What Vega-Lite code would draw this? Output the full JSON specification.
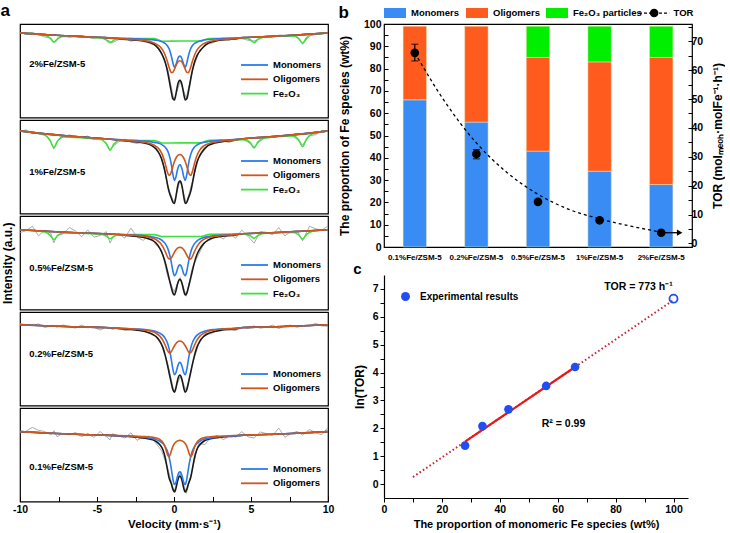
{
"$schema":"https://vega.github.io/schema/vega-lite/v6.json",
"padding":{"left":0,"top":2,"right":0,"bottom":0},
"background":"white",
"config":{
 "font":"Liberation Sans",
 "view":{"stroke":"black","strokeWidth":1.2},
 "axis":{"labelFont":"Liberation Sans","labelFontWeight":"bold","labelFontSize":10.5,"labelColor":"black","titleFont":"Liberation Sans","titleFontWeight":"bold","titleFontSize":11.5,"titleColor":"black","domainColor":"black","tickColor":"black","grid":false,"domainWidth":1.2,"tickWidth":1,"labelOverlap":false},
 "legend":{"labelFont":"Liberation Sans","labelFontWeight":"bold","labelFontSize":9.5,"labelColor":"black"},
 "title":{"font":"Liberation Sans","fontWeight":"bold","fontSize":17,"color":"black"}
},
"datasets":{
"c1":[
{"v":-10,"fit":466,"Monomers":466,"Oligomers":466},{"v":-8,"fit":463.8,"Monomers":463.8,"Oligomers":463.8},{"v":-6,"fit":462.2,"Monomers":462.2,"Oligomers":462.2},{"v":-4.5,"fit":461.2,"Monomers":461.2,"Oligomers":461.2},
{"v":-3.12,"fit":459.4,"Monomers":460.3,"Oligomers":459.7},{"v":-2.37,"fit":458.5,"Monomers":459.9,"Oligomers":458.9},{"v":-1.87,"fit":457.3,"Monomers":459.5,"Oligomers":458.0},{"v":-1.47,"fit":455.7,"Monomers":459.1,"Oligomers":456.7},{"v":-1.17,"fit":452.8,"Monomers":458.5,"Oligomers":454.8},{"v":-0.92,"fit":448.1,"Monomers":457.7,"Oligomers":452.1},{"v":-0.72,"fit":442.2,"Monomers":456.6,"Oligomers":448.1},{"v":-0.57,"fit":436.1,"Monomers":455.2,"Oligomers":443.2},{"v":-0.42,"fit":426.7,"Monomers":452.7,"Oligomers":436.3},{"v":-0.32,"fit":418.5,"Monomers":449.8,"Oligomers":431.0},{"v":-0.24,"fit":411.5,"Monomers":446.4,"Oligomers":427.4},{"v":-0.17,"fit":405.6,"Monomers":442.3,"Oligomers":425.6},{"v":-0.07,"fit":399.0,"Monomers":435.3,"Oligomers":426.0},{"v":0.03,"fit":397.9,"Monomers":431.1,"Oligomers":429.1},{"v":0.13,"fit":404.3,"Monomers":433.7,"Oligomers":432.9},{"v":0.23,"fit":412.5,"Monomers":438.9,"Oligomers":435.9},{"v":0.31,"fit":416.7,"Monomers":441.7,"Oligomers":437.3},{"v":0.38,"fit":417.7,"Monomers":442.4,"Oligomers":437.6},{"v":0.45,"fit":416.7,"Monomers":441.7,"Oligomers":437.3},{"v":0.53,"fit":412.5,"Monomers":438.9,"Oligomers":435.9},{"v":0.63,"fit":404.3,"Monomers":433.7,"Oligomers":432.9},{"v":0.73,"fit":397.9,"Monomers":431.1,"Oligomers":429.1},{"v":0.83,"fit":399.0,"Monomers":435.3,"Oligomers":426.0},{"v":0.93,"fit":405.6,"Monomers":442.3,"Oligomers":425.6},{"v":1.0,"fit":411.5,"Monomers":446.4,"Oligomers":427.4},{"v":1.08,"fit":418.5,"Monomers":449.8,"Oligomers":431.0},{"v":1.18,"fit":426.7,"Monomers":452.7,"Oligomers":436.3},{"v":1.33,"fit":436.1,"Monomers":455.2,"Oligomers":443.2},{"v":1.48,"fit":442.4,"Monomers":456.6,"Oligomers":448.1},{"v":1.68,"fit":447.5,"Monomers":457.7,"Oligomers":452.1},{"v":1.93,"fit":451.9,"Monomers":458.7,"Oligomers":455.0},{"v":2.23,"fit":455.6,"Monomers":459.3,"Oligomers":456.9},{"v":2.63,"fit":457.5,"Monomers":459.7,"Oligomers":458.2},{"v":3.13,"fit":458.8,"Monomers":460.2,"Oligomers":459.2},{"v":3.88,"fit":459.7,"Monomers":460.6,"Oligomers":460.0},
{"v":4.5,"fit":461.2,"Monomers":461.2,"Oligomers":461.2},{"v":6,"fit":462.2,"Monomers":462.2,"Oligomers":462.2},{"v":8,"fit":463.8,"Monomers":463.8,"Oligomers":463.8},{"v":10,"fit":466,"Monomers":466,"Oligomers":466}],
"c2":[
{"v":-10,"fit":369,"Monomers":369,"Oligomers":369},{"v":-8,"fit":365.4,"Monomers":365.4,"Oligomers":365.4},{"v":-6,"fit":362.6,"Monomers":362.6,"Oligomers":362.6},{"v":-4.5,"fit":361.0,"Monomers":361.0,"Oligomers":361.0},
{"v":-3.12,"fit":358.8,"Monomers":359.6,"Oligomers":359.2},{"v":-2.37,"fit":357.6,"Monomers":359.0,"Oligomers":358.2},{"v":-1.87,"fit":356.3,"Monomers":358.5,"Oligomers":357.2},{"v":-1.47,"fit":354.2,"Monomers":357.8,"Oligomers":355.6},{"v":-1.17,"fit":350.7,"Monomers":357.0,"Oligomers":353.3},{"v":-0.92,"fit":344.7,"Monomers":356.0,"Oligomers":349.5},{"v":-0.72,"fit":336.1,"Monomers":354.3,"Oligomers":343.3},{"v":-0.57,"fit":326.7,"Monomers":352.3,"Oligomers":335.7},{"v":-0.42,"fit":314.3,"Monomers":348.8,"Oligomers":326.8},{"v":-0.32,"fit":307.2,"Monomers":344.8,"Oligomers":323.7},{"v":-0.24,"fit":303.4,"Monomers":340.0,"Oligomers":324.7},{"v":-0.17,"fit":300.6,"Monomers":334.3,"Oligomers":327.6},{"v":-0.07,"fit":296.3,"Monomers":324.6,"Oligomers":333.0},{"v":0.03,"fit":295.3,"Monomers":318.7,"Oligomers":337.9},{"v":0.13,"fit":302.5,"Monomers":322.4,"Oligomers":341.4},{"v":0.23,"fit":312.0,"Monomers":329.7,"Oligomers":343.6},{"v":0.31,"fit":316.8,"Monomers":333.5,"Oligomers":344.6},{"v":0.38,"fit":318.0,"Monomers":334.5,"Oligomers":344.8},{"v":0.45,"fit":316.8,"Monomers":333.5,"Oligomers":344.6},{"v":0.53,"fit":312.0,"Monomers":329.7,"Oligomers":343.6},{"v":0.63,"fit":302.5,"Monomers":322.4,"Oligomers":341.4},{"v":0.73,"fit":295.3,"Monomers":318.7,"Oligomers":337.9},{"v":0.83,"fit":296.3,"Monomers":324.6,"Oligomers":333.0},{"v":0.93,"fit":300.6,"Monomers":334.3,"Oligomers":327.6},{"v":1.0,"fit":303.4,"Monomers":340.0,"Oligomers":324.7},{"v":1.08,"fit":307.2,"Monomers":344.8,"Oligomers":323.7},{"v":1.18,"fit":314.3,"Monomers":348.8,"Oligomers":326.8},{"v":1.33,"fit":326.9,"Monomers":352.5,"Oligomers":335.9},{"v":1.48,"fit":336.5,"Monomers":354.5,"Oligomers":343.5},{"v":1.68,"fit":344.1,"Monomers":356.2,"Oligomers":349.7},{"v":1.93,"fit":349.9,"Monomers":357.3,"Oligomers":353.6},{"v":2.23,"fit":354.2,"Monomers":358.1,"Oligomers":355.9},{"v":2.63,"fit":356.6,"Monomers":358.8,"Oligomers":357.5},{"v":3.13,"fit":358.0,"Monomers":359.4,"Oligomers":358.6},{"v":3.88,"fit":359.3,"Monomers":360.1,"Oligomers":359.7},
{"v":4.5,"fit":361.0,"Monomers":361.0,"Oligomers":361.0},{"v":6,"fit":362.6,"Monomers":362.6,"Oligomers":362.6},{"v":8,"fit":365.4,"Monomers":365.4,"Oligomers":365.4},{"v":10,"fit":369,"Monomers":369,"Oligomers":369}],
"c3":[
{"v":-10,"fit":271,"Monomers":271,"Oligomers":271},{"v":-8,"fit":269.2,"Monomers":269.2,"Oligomers":269.2},{"v":-6,"fit":267.8,"Monomers":267.8,"Oligomers":267.8},{"v":-4.5,"fit":267.0,"Monomers":267.0,"Oligomers":267.0},
{"v":-3.12,"fit":265.3,"Monomers":266.0,"Oligomers":265.8},{"v":-2.37,"fit":264.2,"Monomers":265.4,"Oligomers":265.1},{"v":-1.87,"fit":262.9,"Monomers":264.9,"Oligomers":264.2},{"v":-1.47,"fit":260.8,"Monomers":264.0,"Oligomers":262.9},{"v":-1.17,"fit":257.6,"Monomers":263.0,"Oligomers":261.0},{"v":-0.92,"fit":252.2,"Monomers":261.6,"Oligomers":258.0},{"v":-0.72,"fit":245.1,"Monomers":259.5,"Oligomers":253.6},{"v":-0.57,"fit":237.9,"Monomers":256.9,"Oligomers":248.8},{"v":-0.42,"fit":228.3,"Monomers":252.6,"Oligomers":243.5},{"v":-0.32,"fit":221.6,"Monomers":248.0,"Oligomers":241.4},{"v":-0.24,"fit":216.4,"Monomers":242.9,"Oligomers":241.3},{"v":-0.17,"fit":212.1,"Monomers":237.4,"Oligomers":242.5},{"v":-0.07,"fit":206.6,"Monomers":229.1,"Oligomers":245.3},{"v":0.03,"fit":204.8,"Monomers":224.3,"Oligomers":248.3},{"v":0.13,"fit":209.2,"Monomers":226.3,"Oligomers":250.7},{"v":0.23,"fit":216.0,"Monomers":231.5,"Oligomers":252.3},{"v":0.31,"fit":219.6,"Monomers":234.5,"Oligomers":252.9},{"v":0.38,"fit":220.7,"Monomers":235.4,"Oligomers":253.1},{"v":0.45,"fit":219.6,"Monomers":234.5,"Oligomers":252.9},{"v":0.53,"fit":216.0,"Monomers":231.5,"Oligomers":252.3},{"v":0.63,"fit":209.2,"Monomers":226.3,"Oligomers":250.7},{"v":0.73,"fit":204.8,"Monomers":224.3,"Oligomers":248.3},{"v":0.83,"fit":206.6,"Monomers":229.1,"Oligomers":245.3},{"v":0.93,"fit":212.1,"Monomers":237.4,"Oligomers":242.5},{"v":1.0,"fit":216.4,"Monomers":242.9,"Oligomers":241.3},{"v":1.08,"fit":221.6,"Monomers":248.0,"Oligomers":241.4},{"v":1.18,"fit":228.3,"Monomers":252.6,"Oligomers":243.5},{"v":1.33,"fit":237.9,"Monomers":256.9,"Oligomers":248.8},{"v":1.48,"fit":245.3,"Monomers":259.5,"Oligomers":253.6},{"v":1.68,"fit":251.6,"Monomers":261.6,"Oligomers":258.0},{"v":1.93,"fit":256.9,"Monomers":263.2,"Oligomers":261.2},{"v":2.23,"fit":260.7,"Monomers":264.2,"Oligomers":263.05},{"v":2.63,"fit":263.05,"Monomers":265.05,"Oligomers":264.35},{"v":3.13,"fit":264.4,"Monomers":265.6,"Oligomers":265.3},{"v":3.88,"fit":265.55,"Monomers":266.25,"Oligomers":266.05},
{"v":4.5,"fit":267.0,"Monomers":267.0,"Oligomers":267.0},{"v":6,"fit":267.8,"Monomers":267.8,"Oligomers":267.8},{"v":8,"fit":269.2,"Monomers":269.2,"Oligomers":269.2},{"v":10,"fit":271,"Monomers":271,"Oligomers":271}],
"c4":[
{"v":-10,"fit":177,"Monomers":177,"Oligomers":177},{"v":-8,"fit":175.7,"Monomers":175.7,"Oligomers":175.7},{"v":-6,"fit":174.8,"Monomers":174.8,"Oligomers":174.8},{"v":-4.5,"fit":174.2,"Monomers":174.2,"Oligomers":174.2},
{"v":-3.12,"fit":172.5,"Monomers":173.2,"Oligomers":173.1},{"v":-2.37,"fit":171.5,"Monomers":172.7,"Oligomers":172.5},{"v":-1.87,"fit":170.1,"Monomers":172.1,"Oligomers":171.6},{"v":-1.47,"fit":168.0,"Monomers":171.2,"Oligomers":170.3},{"v":-1.17,"fit":165.1,"Monomers":170.1,"Oligomers":168.5},{"v":-0.92,"fit":160.5,"Monomers":168.5,"Oligomers":165.5},{"v":-0.72,"fit":153.8,"Monomers":166.2,"Oligomers":161.1},{"v":-0.57,"fit":145.9,"Monomers":163.2,"Oligomers":156.2},{"v":-0.42,"fit":135.7,"Monomers":158.3,"Oligomers":150.9},{"v":-0.32,"fit":128.3,"Monomers":153.1,"Oligomers":148.7},{"v":-0.24,"fit":122.5,"Monomers":147.3,"Oligomers":148.7},{"v":-0.17,"fit":117.5,"Monomers":141.1,"Oligomers":149.9},{"v":-0.07,"fit":110.9,"Monomers":131.7,"Oligomers":152.7},{"v":0.03,"fit":108.5,"Monomers":126.3,"Oligomers":155.7},{"v":0.13,"fit":113.1,"Monomers":128.5,"Oligomers":158.1},{"v":0.23,"fit":120.6,"Monomers":134.4,"Oligomers":159.7},{"v":0.31,"fit":124.7,"Monomers":137.8,"Oligomers":160.4},{"v":0.38,"fit":126.0,"Monomers":138.9,"Oligomers":160.6},{"v":0.45,"fit":124.7,"Monomers":137.8,"Oligomers":160.4},{"v":0.53,"fit":120.6,"Monomers":134.4,"Oligomers":159.7},{"v":0.63,"fit":113.1,"Monomers":128.5,"Oligomers":158.1},{"v":0.73,"fit":108.5,"Monomers":126.3,"Oligomers":155.7},{"v":0.83,"fit":110.9,"Monomers":131.7,"Oligomers":152.7},{"v":0.93,"fit":117.5,"Monomers":141.1,"Oligomers":149.9},{"v":1.0,"fit":122.5,"Monomers":147.3,"Oligomers":148.7},{"v":1.08,"fit":128.3,"Monomers":153.1,"Oligomers":148.7},{"v":1.18,"fit":135.7,"Monomers":158.3,"Oligomers":150.9},{"v":1.33,"fit":145.9,"Monomers":163.2,"Oligomers":156.2},{"v":1.48,"fit":153.8,"Monomers":166.2,"Oligomers":161.1},{"v":1.68,"fit":160.5,"Monomers":168.5,"Oligomers":165.5},{"v":1.93,"fit":165.1,"Monomers":170.1,"Oligomers":168.5},{"v":2.23,"fit":168.2,"Monomers":171.4,"Oligomers":170.5},{"v":2.63,"fit":170.25,"Monomers":172.25,"Oligomers":171.75},{"v":3.13,"fit":171.65,"Monomers":172.85,"Oligomers":172.65},{"v":3.88,"fit":172.7,"Monomers":173.4,"Oligomers":173.3},
{"v":4.5,"fit":174.2,"Monomers":174.2,"Oligomers":174.2},{"v":6,"fit":174.8,"Monomers":174.8,"Oligomers":174.8},{"v":8,"fit":175.7,"Monomers":175.7,"Oligomers":175.7},{"v":10,"fit":177,"Monomers":177,"Oligomers":177}],
"c5":[
{"v":-10,"fit":71,"Monomers":71,"Oligomers":71},{"v":-8,"fit":69.4,"Monomers":69.4,"Oligomers":69.4},{"v":-6,"fit":68.1,"Monomers":68.1,"Oligomers":68.1},{"v":-4.5,"fit":67.4,"Monomers":67.4,"Oligomers":67.4},
{"v":-3.12,"fit":66.15,"Monomers":66.35,"Oligomers":66.75},{"v":-2.37,"fit":65.25,"Monomers":65.65,"Oligomers":66.35},{"v":-1.87,"fit":64.35,"Monomers":65.05,"Oligomers":65.95},{"v":-1.47,"fit":63.1,"Monomers":64.2,"Oligomers":65.5},{"v":-1.17,"fit":61.1,"Monomers":63.0,"Oligomers":64.6},{"v":-0.92,"fit":57.7,"Monomers":61.2,"Oligomers":63.0},{"v":-0.72,"fit":52.5,"Monomers":58.9,"Oligomers":60.1},{"v":-0.57,"fit":44.5,"Monomers":55.8,"Oligomers":55.2},{"v":-0.42,"fit":31.9,"Monomers":50.7,"Oligomers":47.7},{"v":-0.32,"fit":24.2,"Monomers":45.2,"Oligomers":45.5},{"v":-0.24,"fit":20.7,"Monomers":39.2,"Oligomers":48.0},{"v":-0.17,"fit":17.7,"Monomers":32.7,"Oligomers":51.5},{"v":-0.07,"fit":12.3,"Monomers":22.8,"Oligomers":56.0},{"v":0.03,"fit":9.6,"Monomers":17.2,"Oligomers":58.9},{"v":0.13,"fit":13.6,"Monomers":19.5,"Oligomers":60.6},{"v":0.23,"fit":20.7,"Monomers":25.6,"Oligomers":61.6},{"v":0.31,"fit":24.8,"Monomers":29.3,"Oligomers":62.0},{"v":0.38,"fit":25.9,"Monomers":30.3,"Oligomers":62.1},{"v":0.45,"fit":24.8,"Monomers":29.3,"Oligomers":62.0},{"v":0.53,"fit":20.7,"Monomers":25.6,"Oligomers":61.6},{"v":0.63,"fit":13.6,"Monomers":19.5,"Oligomers":60.6},{"v":0.73,"fit":9.6,"Monomers":17.2,"Oligomers":58.9},{"v":0.83,"fit":12.3,"Monomers":22.8,"Oligomers":56.0},{"v":0.93,"fit":17.7,"Monomers":32.7,"Oligomers":51.5},{"v":1.0,"fit":20.7,"Monomers":39.2,"Oligomers":48.0},{"v":1.08,"fit":24.2,"Monomers":45.2,"Oligomers":45.5},{"v":1.18,"fit":31.9,"Monomers":50.7,"Oligomers":47.7},{"v":1.33,"fit":44.5,"Monomers":55.8,"Oligomers":55.2},{"v":1.48,"fit":52.5,"Monomers":58.9,"Oligomers":60.1},{"v":1.68,"fit":57.7,"Monomers":61.2,"Oligomers":63.0},{"v":1.93,"fit":61.25,"Monomers":63.15,"Oligomers":64.75},{"v":2.23,"fit":63.2,"Monomers":64.3,"Oligomers":65.6},{"v":2.63,"fit":64.5,"Monomers":65.2,"Oligomers":66.1},{"v":3.13,"fit":65.45,"Monomers":65.85,"Oligomers":66.55},{"v":3.88,"fit":66.4,"Monomers":66.6,"Oligomers":67.0},
{"v":4.5,"fit":67.4,"Monomers":67.4,"Oligomers":67.4},{"v":6,"fit":68.1,"Monomers":68.1,"Oligomers":68.1},{"v":8,"fit":69.4,"Monomers":69.4,"Oligomers":69.4},{"v":10,"fit":71,"Monomers":71,"Oligomers":71}],
"g1":[{"v":-10,"y":466},{"v":-8.4,"y":463.5},{"v":-8.05,"y":460.7},{"v":-7.8,"y":456.6},{"v":-7.55,"y":460.2},{"v":-7.2,"y":462.4},{"v":-4.75,"y":460.9},{"v":-4.4,"y":458.9},{"v":-4.15,"y":456.0},{"v":-3.9,"y":458.6},{"v":-3.55,"y":460.3},{"v":-1.3,"y":460.1},{"v":-0.95,"y":458.6},{"v":-0.75,"y":457.5},{"v":0.4,"y":457.8},{"v":1.75,"y":457.7},{"v":1.95,"y":458.7},{"v":2.3,"y":460.3},{"v":4.6,"y":460.8},{"v":4.95,"y":459.0},{"v":5.2,"y":456.1},{"v":5.45,"y":459.3},{"v":5.8,"y":461.5},{"v":7.75,"y":462.8},{"v":8.1,"y":460.1},{"v":8.35,"y":455.7},{"v":8.6,"y":460.6},{"v":8.95,"y":464.0},{"v":10,"y":466}],
"g2":[{"v":-10,"y":369},{"v":-8.4,"y":364.8},{"v":-8.05,"y":359.6},{"v":-7.8,"y":352.1},{"v":-7.55,"y":358.8},{"v":-7.2,"y":362.9},{"v":-4.75,"y":360.2},{"v":-4.4,"y":355.9},{"v":-4.15,"y":349.7},{"v":-3.9,"y":355.5},{"v":-3.55,"y":359.2},{"v":-1.3,"y":359.2},{"v":-0.95,"y":357.6},{"v":-0.75,"y":356.6},{"v":0.4,"y":356.8},{"v":1.75,"y":356.8},{"v":1.95,"y":357.9},{"v":2.3,"y":359.5},{"v":4.6,"y":360.1},{"v":4.95,"y":357.0},{"v":5.2,"y":351.7},{"v":5.45,"y":357.5},{"v":5.8,"y":361.4},{"v":7.75,"y":363.7},{"v":8.1,"y":359.7},{"v":8.35,"y":353.0},{"v":8.6,"y":360.5},{"v":8.95,"y":365.7},{"v":10,"y":369}],
"g3":[{"v":-10,"y":271},{"v":-8.4,"y":268.7},{"v":-8.05,"y":265.6},{"v":-7.8,"y":261.0},{"v":-7.55,"y":265.3},{"v":-7.2,"y":267.8},{"v":-4.75,"y":266.6},{"v":-4.4,"y":264.7},{"v":-4.15,"y":261.9},{"v":-3.9,"y":264.5},{"v":-3.55,"y":266.1},{"v":-1.3,"y":266.1},{"v":-0.95,"y":264.8},{"v":-0.75,"y":264.0},{"v":0.4,"y":264.2},{"v":1.75,"y":264.2},{"v":1.95,"y":265.0},{"v":2.3,"y":266.3},{"v":4.6,"y":266.6},{"v":4.95,"y":264.9},{"v":5.2,"y":262.4},{"v":5.45,"y":265.2},{"v":5.8,"y":267.2},{"v":7.75,"y":268.2},{"v":8.1,"y":265.7},{"v":8.35,"y":261.5},{"v":8.6,"y":266.1},{"v":8.95,"y":269.2},{"v":10,"y":271}],
"d1":[{"v":-10,"y":466.5},{"v":-9.6,"y":464.4},{"v":-9.2,"y":466.5},{"v":-8.8,"y":464.2},{"v":-8.4,"y":461.9},{"v":-8.0,"y":460.8},{"v":-7.8,"y":456.8},{"v":-7.6,"y":458.9},{"v":-7.2,"y":464.0},{"v":-6.8,"y":461.5},{"v":-6.4,"y":462.9},{"v":-6.0,"y":463.3},{"v":-5.6,"y":461.4},{"v":-5.2,"y":460.2},{"v":-4.8,"y":461.7},{"v":-4.4,"y":458.9},{"v":-4.15,"y":457.3},{"v":-4.0,"y":456.0},{"v":-3.6,"y":459.1},{"v":-3.2,"y":460.8},{"v":-2.8,"y":457.4},{"v":-2.4,"y":459.0},{"v":-2.0,"y":458.5},{"v":-1.6,"y":455.3},{"v":-1.2,"y":453.1},{"v":-0.8,"y":444.9},{"v":-0.4,"y":428.3},{"v":0,"y":397.3},{"v":0.4,"y":416.5},{"v":0.8,"y":399.8},{"v":1.2,"y":428.2},{"v":1.6,"y":445.3},{"v":2.0,"y":454.4},{"v":2.4,"y":455.1},{"v":2.8,"y":457.9},{"v":3.2,"y":459.5},{"v":3.6,"y":458.5},{"v":4.0,"y":461.2},{"v":4.4,"y":460.2},{"v":4.8,"y":458.5},{"v":5.2,"y":457.7},{"v":5.6,"y":460.2},{"v":6.0,"y":462.6},{"v":6.4,"y":460.9},{"v":6.8,"y":463.7},{"v":7.2,"y":463.6},{"v":7.6,"y":462.4},{"v":8.0,"y":462.3},{"v":8.35,"y":454.4},{"v":8.8,"y":463.3},{"v":9.2,"y":464.3},{"v":9.6,"y":466.2},{"v":10,"y":465.1}],
"d2":[{"v":-10,"y":368.2},{"v":-9.6,"y":370.0},{"v":-9.2,"y":366.1},{"v":-8.8,"y":367.1},{"v":-8.4,"y":366.0},{"v":-8.0,"y":357.6},{"v":-7.8,"y":350.5},{"v":-7.6,"y":358.4},{"v":-7.2,"y":362.9},{"v":-6.8,"y":365.0},{"v":-6.4,"y":362.1},{"v":-6.0,"y":362.4},{"v":-5.6,"y":363.7},{"v":-5.2,"y":359.9},{"v":-4.8,"y":361.0},{"v":-4.4,"y":356.9},{"v":-4.15,"y":348.5},{"v":-4.0,"y":352.7},{"v":-3.6,"y":357.8},{"v":-3.2,"y":360.6},{"v":-2.8,"y":357.4},{"v":-2.4,"y":356.2},{"v":-2.0,"y":357.9},{"v":-1.6,"y":355.7},{"v":-1.2,"y":350.1},{"v":-0.8,"y":342.5},{"v":-0.4,"y":312.7},{"v":0,"y":295.5},{"v":0.4,"y":318.9},{"v":0.8,"y":295.0},{"v":1.2,"y":317.7},{"v":1.6,"y":341.2},{"v":2.0,"y":350.0},{"v":2.4,"y":357.4},{"v":2.8,"y":356.6},{"v":3.2,"y":358.4},{"v":3.6,"y":357.2},{"v":4.0,"y":360.5},{"v":4.4,"y":360.7},{"v":4.8,"y":357.7},{"v":5.2,"y":352.9},{"v":5.6,"y":358.5},{"v":6.0,"y":362.8},{"v":6.4,"y":362.7},{"v":6.8,"y":364.4},{"v":7.2,"y":363.2},{"v":7.6,"y":364.7},{"v":8.0,"y":360.3},{"v":8.35,"y":354.6},{"v":8.8,"y":364.0},{"v":9.2,"y":365.0},{"v":9.6,"y":369.2},{"v":10,"y":369.2}],
"d3":[{"v":-10,"y":268.2},{"v":-9.6,"y":270.0},{"v":-9.2,"y":274.6},{"v":-8.8,"y":264.9},{"v":-8.4,"y":270.4},{"v":-8.0,"y":267.6},{"v":-7.8,"y":257.7},{"v":-7.6,"y":265.1},{"v":-7.2,"y":266.7},{"v":-6.8,"y":273.3},{"v":-6.4,"y":269.9},{"v":-6.0,"y":263.9},{"v":-5.6,"y":270.9},{"v":-5.2,"y":263.5},{"v":-4.8,"y":265.1},{"v":-4.4,"y":269.1},{"v":-4.15,"y":257.5},{"v":-4.0,"y":262.6},{"v":-3.6,"y":267.4},{"v":-3.2,"y":262.5},{"v":-2.8,"y":272.7},{"v":-2.4,"y":263.6},{"v":-2.0,"y":260.1},{"v":-1.6,"y":266.8},{"v":-1.2,"y":256.0},{"v":-0.8,"y":250.3},{"v":-0.4,"y":223.3},{"v":0,"y":208.0},{"v":0.4,"y":222.4},{"v":0.8,"y":203.5},{"v":1.2,"y":233.0},{"v":1.6,"y":245.9},{"v":2.0,"y":258.6},{"v":2.4,"y":260.9},{"v":2.8,"y":265.8},{"v":3.2,"y":261.6},{"v":3.6,"y":267.1},{"v":4.0,"y":262.4},{"v":4.4,"y":270.6},{"v":4.8,"y":264.4},{"v":5.2,"y":257.4},{"v":5.6,"y":269.3},{"v":6.0,"y":268.4},{"v":6.4,"y":265.9},{"v":6.8,"y":273.3},{"v":7.2,"y":264.7},{"v":7.6,"y":269.6},{"v":8.0,"y":270.1},{"v":8.35,"y":259.8},{"v":8.8,"y":274.5},{"v":9.2,"y":272.0},{"v":9.6,"y":270.6},{"v":10,"y":274.9}],
"d4":[{"v":-10,"y":178.3},{"v":-9.6,"y":177.1},{"v":-9.2,"y":175.8},{"v":-8.8,"y":178.0},{"v":-8.4,"y":174.2},{"v":-8.0,"y":175.7},{"v":-7.8,"y":176.5},{"v":-7.6,"y":174.4},{"v":-7.2,"y":176.8},{"v":-6.8,"y":174.9},{"v":-6.4,"y":173.6},{"v":-6.0,"y":176.8},{"v":-5.6,"y":173.9},{"v":-5.2,"y":174.8},{"v":-4.8,"y":171.7},{"v":-4.4,"y":174.5},{"v":-4.15,"y":173.9},{"v":-4.0,"y":172.2},{"v":-3.6,"y":174.2},{"v":-3.2,"y":171.1},{"v":-2.8,"y":172.3},{"v":-2.4,"y":171.1},{"v":-2.0,"y":171.6},{"v":-1.6,"y":168.0},{"v":-1.2,"y":165.8},{"v":-0.8,"y":156.2},{"v":-0.4,"y":137.5},{"v":0,"y":108.6},{"v":0.4,"y":124.0},{"v":0.8,"y":110.6},{"v":1.2,"y":137.2},{"v":1.6,"y":157.2},{"v":2.0,"y":168.1},{"v":2.4,"y":167.7},{"v":2.8,"y":171.3},{"v":3.2,"y":173.0},{"v":3.6,"y":171.9},{"v":4.0,"y":171.1},{"v":4.4,"y":174.2},{"v":4.8,"y":173.6},{"v":5.2,"y":175.9},{"v":5.6,"y":173.5},{"v":6.0,"y":174.6},{"v":6.4,"y":176.7},{"v":6.8,"y":173.1},{"v":7.2,"y":176.0},{"v":7.6,"y":176.6},{"v":8.0,"y":174.4},{"v":8.35,"y":176.2},{"v":8.8,"y":175.8},{"v":9.2,"y":178.5},{"v":9.6,"y":175.8},{"v":10,"y":175.5}],
"d5":[{"v":-10,"y":69.6},{"v":-9.6,"y":71.5},{"v":-9.2,"y":75.3},{"v":-8.8,"y":72.3},{"v":-8.4,"y":71.1},{"v":-8.0,"y":67.6},{"v":-7.8,"y":71.9},{"v":-7.6,"y":65.9},{"v":-7.2,"y":69.3},{"v":-6.8,"y":67.7},{"v":-6.4,"y":70.1},{"v":-6.0,"y":65.8},{"v":-5.6,"y":69.3},{"v":-5.2,"y":65.0},{"v":-4.8,"y":71.1},{"v":-4.4,"y":66.0},{"v":-4.15,"y":62.6},{"v":-4.0,"y":68.8},{"v":-3.6,"y":66.8},{"v":-3.2,"y":64.4},{"v":-2.8,"y":69.8},{"v":-2.4,"y":62.1},{"v":-2.0,"y":65.7},{"v":-1.6,"y":66.4},{"v":-1.2,"y":59.8},{"v":-0.8,"y":51.4},{"v":-0.4,"y":33.7},{"v":0,"y":10.1},{"v":0.4,"y":29.1},{"v":0.8,"y":8.2},{"v":1.2,"y":33.0},{"v":1.6,"y":59.2},{"v":2.0,"y":57.8},{"v":2.4,"y":65.3},{"v":2.8,"y":67.3},{"v":3.2,"y":62.8},{"v":3.6,"y":66.6},{"v":4.0,"y":65.5},{"v":4.4,"y":70.9},{"v":4.8,"y":65.7},{"v":5.2,"y":64.5},{"v":5.6,"y":70.6},{"v":6.0,"y":69.0},{"v":6.4,"y":66.9},{"v":6.8,"y":74.6},{"v":7.2,"y":65.2},{"v":7.6,"y":69.1},{"v":8.0,"y":71.2},{"v":8.35,"y":67.4},{"v":8.8,"y":73.2},{"v":9.2,"y":69.8},{"v":9.6,"y":67.9},{"v":10,"y":75.1}],
"bars":[
{"cat":"0.1%Fe/ZSM-5","sp":"Monomers","pct":66,"k":1},{"cat":"0.1%Fe/ZSM-5","sp":"Oligomers","pct":33,"k":2},
{"cat":"0.2%Fe/ZSM-5","sp":"Monomers","pct":56,"k":1},{"cat":"0.2%Fe/ZSM-5","sp":"Oligomers","pct":43,"k":2},
{"cat":"0.5%Fe/ZSM-5","sp":"Monomers","pct":43,"k":1},{"cat":"0.5%Fe/ZSM-5","sp":"Oligomers","pct":42,"k":2},{"cat":"0.5%Fe/ZSM-5","sp":"Fe₂O₃ particles","pct":14,"k":3},
{"cat":"1%Fe/ZSM-5","sp":"Monomers","pct":34,"k":1},{"cat":"1%Fe/ZSM-5","sp":"Oligomers","pct":49,"k":2},{"cat":"1%Fe/ZSM-5","sp":"Fe₂O₃ particles","pct":16,"k":3},
{"cat":"2%Fe/ZSM-5","sp":"Monomers","pct":28,"k":1},{"cat":"2%Fe/ZSM-5","sp":"Oligomers","pct":57,"k":2},{"cat":"2%Fe/ZSM-5","sp":"Fe₂O₃ particles","pct":14,"k":3}],
"tor":[{"pos":0,"t":66,"lo":63.2,"hi":69},{"pos":1,"t":31,"lo":29.3,"hi":32.5},{"pos":2,"t":14.4,"lo":13.8,"hi":15.0},{"pos":3,"t":8.0,"lo":7.6,"hi":8.4},{"pos":4,"t":3.7,"lo":3.4,"hi":4.0}],
"torfit":[{"pos":0,"t":66},{"pos":0.5,"t":48.7},{"pos":1,"t":34.8},{"pos":1.5,"t":24.5},{"pos":2,"t":17.0},{"pos":2.5,"t":11.8},{"pos":3,"t":8.5},{"pos":3.5,"t":6.0},{"pos":4,"t":3.9}],
"exp":[{"x":28,"y":1.38},{"x":34,"y":2.08},{"x":43,"y":2.68},{"x":56,"y":3.52},{"x":66,"y":4.2}],
"pred":[{"x":100,"y":6.65}],
"fitdot":[{"x":10,"y":0.25},{"x":100,"y":6.6}],
"fitsolid":[{"x":28,"y":1.52},{"x":66,"y":4.2}]
},
"spacing":2,
"resolve":{"scale":{"color":"independent"},"legend":{"color":"independent"}},
"hconcat":[
{
 "title":{"text":"a","anchor":"start","frame":"bounds","offset":3},
 "spacing":0,
 "resolve":{"scale":{"color":"independent"},"legend":{"color":"independent"}},
 "vconcat":[
  {"width":308,"height":93.5,
   "encoding":{"x":{"field":"v","type":"quantitative","scale":{"domain":[-10,10]},"axis":null},"y":{"field":"y","type":"quantitative","scale":{"domain":[380,475]},"axis":null}},
   "layer":[
    {"data":{"name":"d1"},"mark":{"type":"line","color":"#8f9999","strokeWidth":0.8,"clip":true}},
    {"data":{"name":"c1"},"transform":[{"fold":["fit"],"as":["k","y"]}],"mark":{"type":"line","color":"#1a1a1a","strokeWidth":1.6,"interpolate":"monotone","clip":true}},
    {"data":{"name":"g1"},"mark":{"type":"line","strokeWidth":1.6,"interpolate":"monotone","clip":true},"encoding":{"color":{"datum":"Fe₂O₃","type":"nominal","scale":{"domain":["Monomers","Oligomers","Fe₂O₃"],"range":["#2a7af0","#d2561a","#3ee03e"]},"legend":{"orient":"none","legendX":220,"legendY":35,"title":null,"symbolType":"M-1,0H4.4","symbolSize":100,"symbolStrokeWidth":1.8,"labelOffset":21,"rowPadding":3.3}}}},
    {"data":{"name":"c1"},"transform":[{"fold":["Monomers","Oligomers"],"as":["sp","y"]}],"mark":{"type":"line","strokeWidth":1.6,"interpolate":"monotone","clip":true},"encoding":{"color":{"field":"sp","type":"nominal","scale":{"domain":["Monomers","Oligomers","Fe₂O₃"],"range":["#2a7af0","#d2561a","#3ee03e"]},"legend":{"orient":"none","legendX":220,"legendY":35,"title":null,"symbolType":"M-1,0H4.4","symbolSize":100,"symbolStrokeWidth":1.8,"labelOffset":21,"rowPadding":3.3}}}},
    {"data":{"values":[{"v":-9.4,"y":434.3,"lab":"2%Fe/ZSM-5"}]},"mark":{"type":"text","align":"left","baseline":"middle","fontWeight":"bold","fontSize":9.5,"font":"Liberation Sans"},"encoding":{"text":{"field":"lab"}}}
   ]},
  {"width":308,"height":93.5,
   "encoding":{"x":{"field":"v","type":"quantitative","scale":{"domain":[-10,10]},"axis":null},"y":{"field":"y","type":"quantitative","scale":{"domain":[285,380]},"axis":null}},
   "layer":[
    {"data":{"name":"d2"},"mark":{"type":"line","color":"#8f9999","strokeWidth":0.8,"clip":true}},
    {"data":{"name":"c2"},"transform":[{"fold":["fit"],"as":["k","y"]}],"mark":{"type":"line","color":"#1a1a1a","strokeWidth":1.6,"interpolate":"monotone","clip":true}},
    {"data":{"name":"g2"},"mark":{"type":"line","strokeWidth":1.6,"interpolate":"monotone","clip":true},"encoding":{"color":{"datum":"Fe₂O₃","type":"nominal","scale":{"domain":["Monomers","Oligomers","Fe₂O₃"],"range":["#2a7af0","#d2561a","#3ee03e"]},"legend":{"orient":"none","legendX":220,"legendY":35,"title":null,"symbolType":"M-1,0H4.4","symbolSize":100,"symbolStrokeWidth":1.8,"labelOffset":21,"rowPadding":3.3}}}},
    {"data":{"name":"c2"},"transform":[{"fold":["Monomers","Oligomers"],"as":["sp","y"]}],"mark":{"type":"line","strokeWidth":1.6,"interpolate":"monotone","clip":true},"encoding":{"color":{"field":"sp","type":"nominal","scale":{"domain":["Monomers","Oligomers","Fe₂O₃"],"range":["#2a7af0","#d2561a","#3ee03e"]},"legend":{"orient":"none","legendX":220,"legendY":35,"title":null,"symbolType":"M-1,0H4.4","symbolSize":100,"symbolStrokeWidth":1.8,"labelOffset":21,"rowPadding":3.3}}}},
    {"data":{"values":[{"v":-9.4,"y":327,"lab":"1%Fe/ZSM-5"}]},"mark":{"type":"text","align":"left","baseline":"middle","fontWeight":"bold","fontSize":9.5,"font":"Liberation Sans"},"encoding":{"text":{"field":"lab"}}}
   ]},
  {"width":308,"height":93.5,
   "encoding":{"x":{"field":"v","type":"quantitative","scale":{"domain":[-10,10]},"axis":null},"y":{"field":"y","type":"quantitative","scale":{"domain":[190,285]},"axis":{"title":"Intensity (a.u.)","labels":false,"ticks":false,"domain":false,"titlePadding":6,"titleFontSize":12}}},
   "layer":[
    {"data":{"name":"d3"},"mark":{"type":"line","color":"#8f9999","strokeWidth":0.8,"clip":true}},
    {"data":{"name":"c3"},"transform":[{"fold":["fit"],"as":["k","y"]}],"mark":{"type":"line","color":"#1a1a1a","strokeWidth":1.6,"interpolate":"monotone","clip":true}},
    {"data":{"name":"g3"},"mark":{"type":"line","strokeWidth":1.6,"interpolate":"monotone","clip":true},"encoding":{"color":{"datum":"Fe₂O₃","type":"nominal","scale":{"domain":["Monomers","Oligomers","Fe₂O₃"],"range":["#2a7af0","#d2561a","#3ee03e"]},"legend":{"orient":"none","legendX":220,"legendY":43,"title":null,"symbolType":"M-1,0H4.4","symbolSize":100,"symbolStrokeWidth":1.8,"labelOffset":21,"rowPadding":3.3}}}},
    {"data":{"name":"c3"},"transform":[{"fold":["Monomers","Oligomers"],"as":["sp","y"]}],"mark":{"type":"line","strokeWidth":1.6,"interpolate":"monotone","clip":true},"encoding":{"color":{"field":"sp","type":"nominal","scale":{"domain":["Monomers","Oligomers","Fe₂O₃"],"range":["#2a7af0","#d2561a","#3ee03e"]},"legend":{"orient":"none","legendX":220,"legendY":43,"title":null,"symbolType":"M-1,0H4.4","symbolSize":100,"symbolStrokeWidth":1.8,"labelOffset":21,"rowPadding":3.3}}}},
    {"data":{"values":[{"v":-9.4,"y":232,"lab":"0.5%Fe/ZSM-5"}]},"mark":{"type":"text","align":"left","baseline":"middle","fontWeight":"bold","fontSize":9.5,"font":"Liberation Sans"},"encoding":{"text":{"field":"lab"}}}
   ]},
  {"width":308,"height":93.5,
   "encoding":{"x":{"field":"v","type":"quantitative","scale":{"domain":[-10,10]},"axis":null},"y":{"field":"y","type":"quantitative","scale":{"domain":[95,190]},"axis":null}},
   "layer":[
    {"data":{"name":"d4"},"mark":{"type":"line","color":"#8f9999","strokeWidth":0.8,"clip":true}},
    {"data":{"name":"c4"},"transform":[{"fold":["fit"],"as":["k","y"]}],"mark":{"type":"line","color":"#1a1a1a","strokeWidth":1.6,"interpolate":"monotone","clip":true}},
    {"data":{"name":"c4"},"transform":[{"fold":["Monomers","Oligomers"],"as":["sp","y"]}],"mark":{"type":"line","strokeWidth":1.6,"interpolate":"monotone","clip":true},"encoding":{"color":{"field":"sp","type":"nominal","scale":{"domain":["Monomers","Oligomers"],"range":["#2a7af0","#d2561a"]},"legend":{"orient":"none","legendX":220,"legendY":56,"title":null,"symbolType":"M-1,0H4.4","symbolSize":100,"symbolStrokeWidth":1.8,"labelOffset":21,"rowPadding":3.3}}}},
    {"data":{"values":[{"v":-9.4,"y":147.7,"lab":"0.2%Fe/ZSM-5"}]},"mark":{"type":"text","align":"left","baseline":"middle","fontWeight":"bold","fontSize":9.5,"font":"Liberation Sans"},"encoding":{"text":{"field":"lab"}}}
   ]},
  {"width":308,"height":93.5,
   "encoding":{"x":{"field":"v","type":"quantitative","scale":{"domain":[-10,10]},"axis":{"title":"Velocity (mm·s⁻¹)","values":[-10,-7.5,-5,-2.5,0,2.5,5,7.5,10],"labelExpr":"datum.value % 5 === 0 ? '' + datum.value : ''","tickSize":-5,"labelPadding":8,"labelFlush":false,"domain":false,"titlePadding":3}},"y":{"field":"y","type":"quantitative","scale":{"domain":[0,95]},"axis":null}},
   "layer":[
    {"data":{"name":"d5"},"mark":{"type":"line","color":"#8f9999","strokeWidth":0.8,"clip":true}},
    {"data":{"name":"c5"},"transform":[{"fold":["fit"],"as":["k","y"]}],"mark":{"type":"line","color":"#1a1a1a","strokeWidth":1.6,"interpolate":"monotone","clip":true}},
    {"data":{"name":"c5"},"transform":[{"fold":["Monomers","Oligomers"],"as":["sp","y"]}],"mark":{"type":"line","strokeWidth":1.6,"interpolate":"monotone","clip":true},"encoding":{"color":{"field":"sp","type":"nominal","scale":{"domain":["Monomers","Oligomers"],"range":["#2a7af0","#d2561a"]},"legend":{"orient":"none","legendX":220,"legendY":55,"title":null,"symbolType":"M-1,0H4.4","symbolSize":100,"symbolStrokeWidth":1.8,"labelOffset":21,"rowPadding":3.3}}}},
    {"data":{"values":[{"v":-9.4,"y":35.3,"lab":"0.1%Fe/ZSM-5"}]},"mark":{"type":"text","align":"left","baseline":"middle","fontWeight":"bold","fontSize":9.5,"font":"Liberation Sans"},"encoding":{"text":{"field":"lab"}}}
   ]}
 ]
},
{
 "spacing":0,
 "resolve":{"scale":{"color":"independent"},"legend":{"color":"independent"}},
 "vconcat":[
  {
   "title":{"text":"b","anchor":"start","frame":"bounds","offset":0,"dy":14},
   "width":308,"height":223,
   "resolve":{"scale":{"x":"independent","y":"independent"}},
   "layer":[
    {"data":{"name":"bars"},
     "mark":{"type":"bar","stroke":"#f3e4a8","strokeWidth":0.5},
     "encoding":{
      "x":{"field":"cat","type":"nominal","sort":null,"scale":{"paddingInner":0.62,"paddingOuter":0.31},"axis":{"title":null,"labelAngle":0,"labelFontSize":8,"ticks":false,"labelPadding":6,"domain":false}},
      "y":{"field":"pct","type":"quantitative","stack":"zero","scale":{"domain":[0,100]},"axis":{"title":"The proportion of  Fe species (wt%)","values":[0,5,10,15,20,25,30,35,40,45,50,55,60,65,70,75,80,85,90,95,100],"labelExpr":"datum.value % 10 === 0 ? datum.label : ''","tickSize":-4,"labelPadding":7,"domain":false,"titlePadding":12,"titleFontSize":12}},
      "color":{"field":"sp","type":"nominal","scale":{"domain":["Monomers","Oligomers","Fe₂O₃ particles"],"range":["#3a8cf5","#ff5b1f","#00ee00"]},
        "legend":{"orient":"none","legendX":0,"legendY":-16,"direction":"horizontal","title":null,"symbolSize":100,"symbolType":"M-1,-1H3.4V1H-1Z","labelOffset":17,"columnPadding":6,"symbolStrokeWidth":0}},
      "order":{"field":"k","type":"quantitative"}
     }},
    {"encoding":{
       "x":{"field":"pos","type":"quantitative","scale":{"domain":[-0.5,4.5]},"axis":null},
       "y":{"field":"t","type":"quantitative","scale":{"domain":[-1.25,76]},"axis":{"orient":"right","title":"TOR (molₘₑₒₕ·molFe⁻¹·h⁻¹)","values":[0,5,10,15,20,25,30,35,40,45,50,55,60,65,70,75],"labelExpr":"datum.value % 10 === 0 ? datum.label : ''","tickSize":-4,"labelPadding":3,"domain":false,"titleAngle":270,"titleBaseline":"top","titlePadding":10,"titleFontSize":12}}},
     "layer":[
      {"data":{"name":"torfit"},"mark":{"type":"line","color":"black","strokeDash":[3,3],"strokeWidth":1.3,"interpolate":"monotone"}},
      {"data":{"name":"tor"},"mark":{"type":"rule","color":"black","strokeWidth":1.2},"encoding":{"y":{"field":"lo","type":"quantitative","scale":{"domain":[-1.25,76]},"axis":{"orient":"right","title":"TOR (molₘₑₒₕ·molFe⁻¹·h⁻¹)","values":[0,5,10,15,20,25,30,35,40,45,50,55,60,65,70,75],"labelExpr":"datum.value % 10 === 0 ? datum.label : ''","tickSize":-4,"labelPadding":3,"domain":false,"titleAngle":270,"titleBaseline":"top","titlePadding":10,"titleFontSize":12}},"y2":{"field":"hi"}}},
      {"data":{"name":"tor"},"mark":{"type":"tick","color":"black","thickness":1.2,"size":7,"orient":"horizontal"},"encoding":{"y":{"field":"lo","type":"quantitative","scale":{"domain":[-1.25,76]},"axis":{"orient":"right","title":"TOR (molₘₑₒₕ·molFe⁻¹·h⁻¹)","values":[0,5,10,15,20,25,30,35,40,45,50,55,60,65,70,75],"labelExpr":"datum.value % 10 === 0 ? datum.label : ''","tickSize":-4,"labelPadding":3,"domain":false,"titleAngle":270,"titleBaseline":"top","titlePadding":10,"titleFontSize":12}}}},
      {"data":{"name":"tor"},"mark":{"type":"tick","color":"black","thickness":1.2,"size":7,"orient":"horizontal"},"encoding":{"y":{"field":"hi","type":"quantitative","scale":{"domain":[-1.25,76]},"axis":{"orient":"right","title":"TOR (molₘₑₒₕ·molFe⁻¹·h⁻¹)","values":[0,5,10,15,20,25,30,35,40,45,50,55,60,65,70,75],"labelExpr":"datum.value % 10 === 0 ? datum.label : ''","tickSize":-4,"labelPadding":3,"domain":false,"titleAngle":270,"titleBaseline":"top","titlePadding":10,"titleFontSize":12}}}},
      {"data":{"name":"tor"},"mark":{"type":"point","filled":true,"color":"black","size":75,"opacity":1}},
      {"data":{"values":[{"pos":4,"pos2":4.28,"t":3.7}]},"mark":{"type":"rule","color":"black","strokeWidth":1.3},"encoding":{"x2":{"field":"pos2"}}},
      {"data":{"values":[{"pos":4.3,"t":3.7}]},"mark":{"type":"point","shape":"triangle-right","filled":true,"color":"black","size":40,"opacity":1}},
      {"data":{"values":[{"pos":3.64,"pos2":4.13,"t":79.8}]},"mark":{"type":"rule","color":"black","strokeWidth":1.3,"strokeDash":[3,2]},"encoding":{"x2":{"field":"pos2"}}},
      {"data":{"values":[{"pos":3.885,"t":79.8}]},"mark":{"type":"point","filled":true,"color":"black","size":75,"opacity":1}},
      {"data":{"values":[{"pos":4.2,"t":79.8,"lab":"TOR"}]},"mark":{"type":"text","align":"left","baseline":"middle","fontWeight":"bold","fontSize":9.5,"font":"Liberation Sans"},"encoding":{"text":{"field":"lab"}}}
     ]}
   ]
  },
  {
   "title":{"text":"c","anchor":"start","frame":"bounds","offset":-2,"fontSize":15},
   "width":304,"height":223,
   "view":{"stroke":null},
   "encoding":{
     "x":{"field":"x","type":"quantitative","scale":{"domain":[0,105]},"axis":{"title":"The proportion of monomeric Fe species (wt%)","values":[0,10,20,30,40,50,60,70,80,90,100],"labelExpr":"datum.value % 20 === 0 ? datum.label : ''","tickSize":4,"labelFlush":false,"titleFontSize":11,"titlePadding":4}},
     "y":{"field":"y","type":"quantitative","scale":{"domain":[-0.5,7.5]},"axis":{"title":"ln(TOR)","values":[0,0.5,1,1.5,2,2.5,3,3.5,4,4.5,5,5.5,6,6.5,7],"labelExpr":"datum.value % 1 === 0 ? '' + datum.value : ''","tickSize":4,"titlePadding":6,"titleFontSize":12}}
   },
   "layer":[
    {"data":{"name":"fitdot"},"mark":{"type":"line","color":"#c8283c","strokeDash":[1.6,2.4],"strokeWidth":2}},
    {"data":{"name":"fitsolid"},"mark":{"type":"line","color":"#e81818","strokeWidth":2.2}},
    {"data":{"name":"exp"},"mark":{"type":"point","filled":true,"size":75,"opacity":1},"encoding":{"color":{"datum":"Experimental results","type":"nominal","scale":{"range":["#1f4ff2"]},"legend":{"orient":"top-left","offset":16,"title":null,"symbolType":"circle","symbolSize":80,"labelOffset":9,"labelFontSize":10}}}},
    {"data":{"name":"pred"},"mark":{"type":"point","filled":false,"color":"#1f4ff2","size":65,"strokeWidth":1.8,"opacity":1}},
    {"data":{"values":[{"x":87.9,"y":7.06,"lab":"TOR = 773 h⁻¹"},{"x":62,"y":2.16,"lab":"R² = 0.99"}]},"mark":{"type":"text","align":"center","baseline":"middle","fontWeight":"bold","fontSize":10.5,"font":"Liberation Sans"},"encoding":{"text":{"field":"lab"}}}
   ]
  }
 ]
}
]
}
